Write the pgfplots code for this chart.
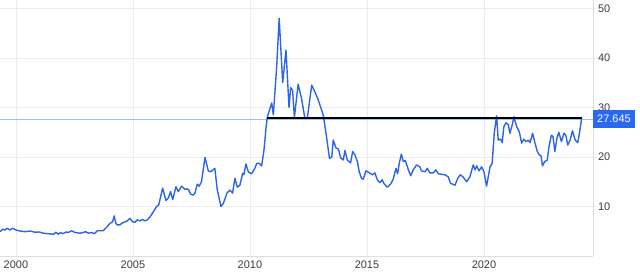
\documentclass[border=0pt]{standalone}
\usepackage{fontspec}
\setmainfont{Liberation Sans}
\usepackage{pgfplots}
\pgfplotsset{compat=1.18}
\definecolor{linec}{RGB}{45,100,230}
\definecolor{thinc}{RGB}{160,190,245}
\definecolor{boxblue}{RGB}{40,105,240}
\definecolor{gridc}{RGB}{236,236,236}
\definecolor{axc}{RGB}{222,222,222}
\definecolor{labc}{RGB}{60,60,60}
\begin{document}
\begin{tikzpicture}[x=1bp,y=1bp]
\useasboundingbox (0,-20) rectangle (640,256);
\begin{axis}[
 at={(0,0)}, anchor=south west,
 scale only axis, width=593bp, height=256bp,
 xmin=1999.32, xmax=2024.66, ymin=0, ymax=51.7,
 axis x line=bottom, axis y line=right,
 axis line style={-, draw=axc, line width=0.8pt},
 xtick={2000,2005,2010,2015,2020}, ytick={10,20,30,40,50},
 xticklabels={2000,2005,2010,2015,2020},
 xtick style={draw=none},
 ytick style={draw=gridc, line width=0.8pt},
 major tick length=3bp, tick align=outside,
 grid=major, major grid style={draw=gridc, line width=0.8pt},
 /pgf/number format/assume math mode=true,
 /pgf/number format/1000 sep={},
 tick label style={font=\fontsize{11}{13}\selectfont, text=labc},
 xticklabel style={yshift=2bp},
 yticklabel style={anchor=west, xshift=-1.5bp},
 clip=false,
]
\addplot[draw=thinc, line width=0.9pt, forget plot] coordinates {(1999.32,27.645) (2024.66,27.645)};
\addplot[draw=linec, line width=1.4pt, line join=round] coordinates {
(1999.32,4.9) (1999.43,5.4) (1999.53,5.25) (1999.63,5.6) (1999.74,5.25) (1999.86,5.6)
(2000.0,5.25) (2000.17,5.05) (2000.38,4.9) (2000.6,5.05) (2000.81,4.8)
(2001.0,4.85) (2001.17,4.6) (2001.38,4.5) (2001.6,4.4) (2001.71,4.8) (2001.81,4.4) (2001.91,4.75)
(2002.0,4.5) (2002.14,4.85) (2002.24,4.75) (2002.38,5.1) (2002.52,4.75) (2002.74,4.6) (2002.99,4.9)
(2003.09,4.6) (2003.24,4.75) (2003.35,4.5) (2003.48,5.1) (2003.73,5.1) (2003.88,5.8)
(2004.02,6.6) (2004.13,6.9) (2004.2,8.1) (2004.27,6.6) (2004.33,6.3) (2004.44,6.3) (2004.56,6.7)
(2004.66,6.9) (2004.76,7.1) (2004.87,7.6) (2004.99,6.9)
(2005.09,6.8) (2005.18,7.3) (2005.3,7.1) (2005.41,7.4) (2005.51,7.1) (2005.61,7.3) (2005.73,7.9) (2005.87,8.9)
(2006.01,10.0) (2006.1,10.3) (2006.27,13.7) (2006.41,11.2) (2006.51,11.7) (2006.61,13.0) (2006.7,11.4)
(2006.84,14.0) (2006.94,13.0)
(2007.08,14.1) (2007.22,13.5) (2007.36,13.5) (2007.47,12.5) (2007.58,12.3) (2007.65,12.7) (2007.75,14.5)
(2007.83,14.1) (2007.93,15.0)
(2008.08,19.9) (2008.22,17.2) (2008.32,17.0) (2008.5,17.7) (2008.6,13.5) (2008.76,10.0) (2008.86,10.6)
(2009.03,12.8) (2009.15,13.3) (2009.26,12.7) (2009.36,15.7) (2009.46,13.9) (2009.57,14.3) (2009.69,16.7)
(2009.74,16.4) (2009.83,18.6) (2009.93,17.0)
(2010.07,16.6) (2010.21,17.7) (2010.29,18.7) (2010.4,18.7) (2010.5,18.2) (2010.6,21.4) (2010.68,25.5)
(2010.74,28.0) (2010.93,30.9)
(2011.0,28.5) (2011.14,38.0) (2011.25,48.0) (2011.4,35.0) (2011.54,41.6) (2011.67,30.0) (2011.74,34.0)
(2011.82,33.5) (2011.9,28.0)
(2012.06,34.7) (2012.2,31.9) (2012.35,27.8) (2012.45,27.8) (2012.64,34.5) (2012.78,33.1) (2012.92,31.5)
(2012.99,30.5)
(2013.13,28.5) (2013.25,24.8) (2013.4,19.7) (2013.5,20.0) (2013.56,23.4) (2013.68,21.8) (2013.78,21.6)
(2013.88,19.8) (2013.99,19.4)
(2014.06,21.3) (2014.16,19.4) (2014.3,18.8) (2014.39,21.1) (2014.49,20.4) (2014.59,19.1) (2014.67,17.0)
(2014.77,15.7) (2014.84,15.5) (2014.96,17.2)
(2015.1,16.8) (2015.24,16.4) (2015.34,16.8) (2015.44,15.4) (2015.56,14.8) (2015.65,15.4) (2015.73,14.6)
(2015.87,13.9)
(2016.01,14.5) (2016.12,15.5) (2016.24,17.7) (2016.31,16.6) (2016.38,18.7) (2016.47,20.6) (2016.55,19.1)
(2016.64,19.3) (2016.77,17.4) (2016.87,16.2) (2016.98,17.4)
(2017.12,18.4) (2017.26,18.0) (2017.33,17.2) (2017.48,17.0) (2017.58,17.7) (2017.69,16.8) (2017.84,16.8)
(2017.95,17.4)
(2018.05,16.6) (2018.33,16.4) (2018.47,16.0) (2018.57,14.7) (2018.76,14.3) (2018.88,15.7) (2018.99,16.4)
(2019.1,16.0) (2019.26,15.0) (2019.4,16.0) (2019.54,18.4) (2019.62,17.4) (2019.69,18.2) (2019.79,17.2)
(2019.9,18.0)
(2020.0,17.0) (2020.11,14.1) (2020.26,18.0) (2020.35,18.7) (2020.44,24.8) (2020.54,28.3) (2020.61,23.4)
(2020.71,23.6) (2020.78,22.9) (2020.85,26.1) (2020.94,26.9)
(2021.04,26.5) (2021.11,24.8) (2021.21,26.5) (2021.28,28.1) (2021.4,26.1) (2021.51,25.1) (2021.61,22.8)
(2021.71,23.6) (2021.79,23.1) (2021.89,23.4) (2021.97,22.9)
(2022.08,24.8) (2022.18,22.8) (2022.28,21.1) (2022.37,20.4) (2022.44,20.2) (2022.5,18.2) (2022.6,19.1)
(2022.7,19.3) (2022.78,22.1) (2022.88,24.4) (2022.95,24.1)
(2023.03,21.1) (2023.12,23.8) (2023.2,25.0) (2023.31,23.1) (2023.42,24.8) (2023.5,24.4) (2023.58,22.4)
(2023.68,23.4) (2023.78,25.3) (2023.9,23.4)
(2024.01,22.9) (2024.08,24.8) (2024.17,27.7)
};
\addplot[draw=black, line width=1.6pt, forget plot] coordinates {(2010.74,27.9) (2024.17,27.9)};
\coordinate (lbl) at (axis cs:2024.66,27.645);
\end{axis}
\node[fill=boxblue, text=white, anchor=west, inner xsep=4bp, inner ysep=0bp, minimum height=18bp,
      font=\fontsize{11}{13}\selectfont] at (lbl) {27.645};
\end{tikzpicture}
\end{document}
